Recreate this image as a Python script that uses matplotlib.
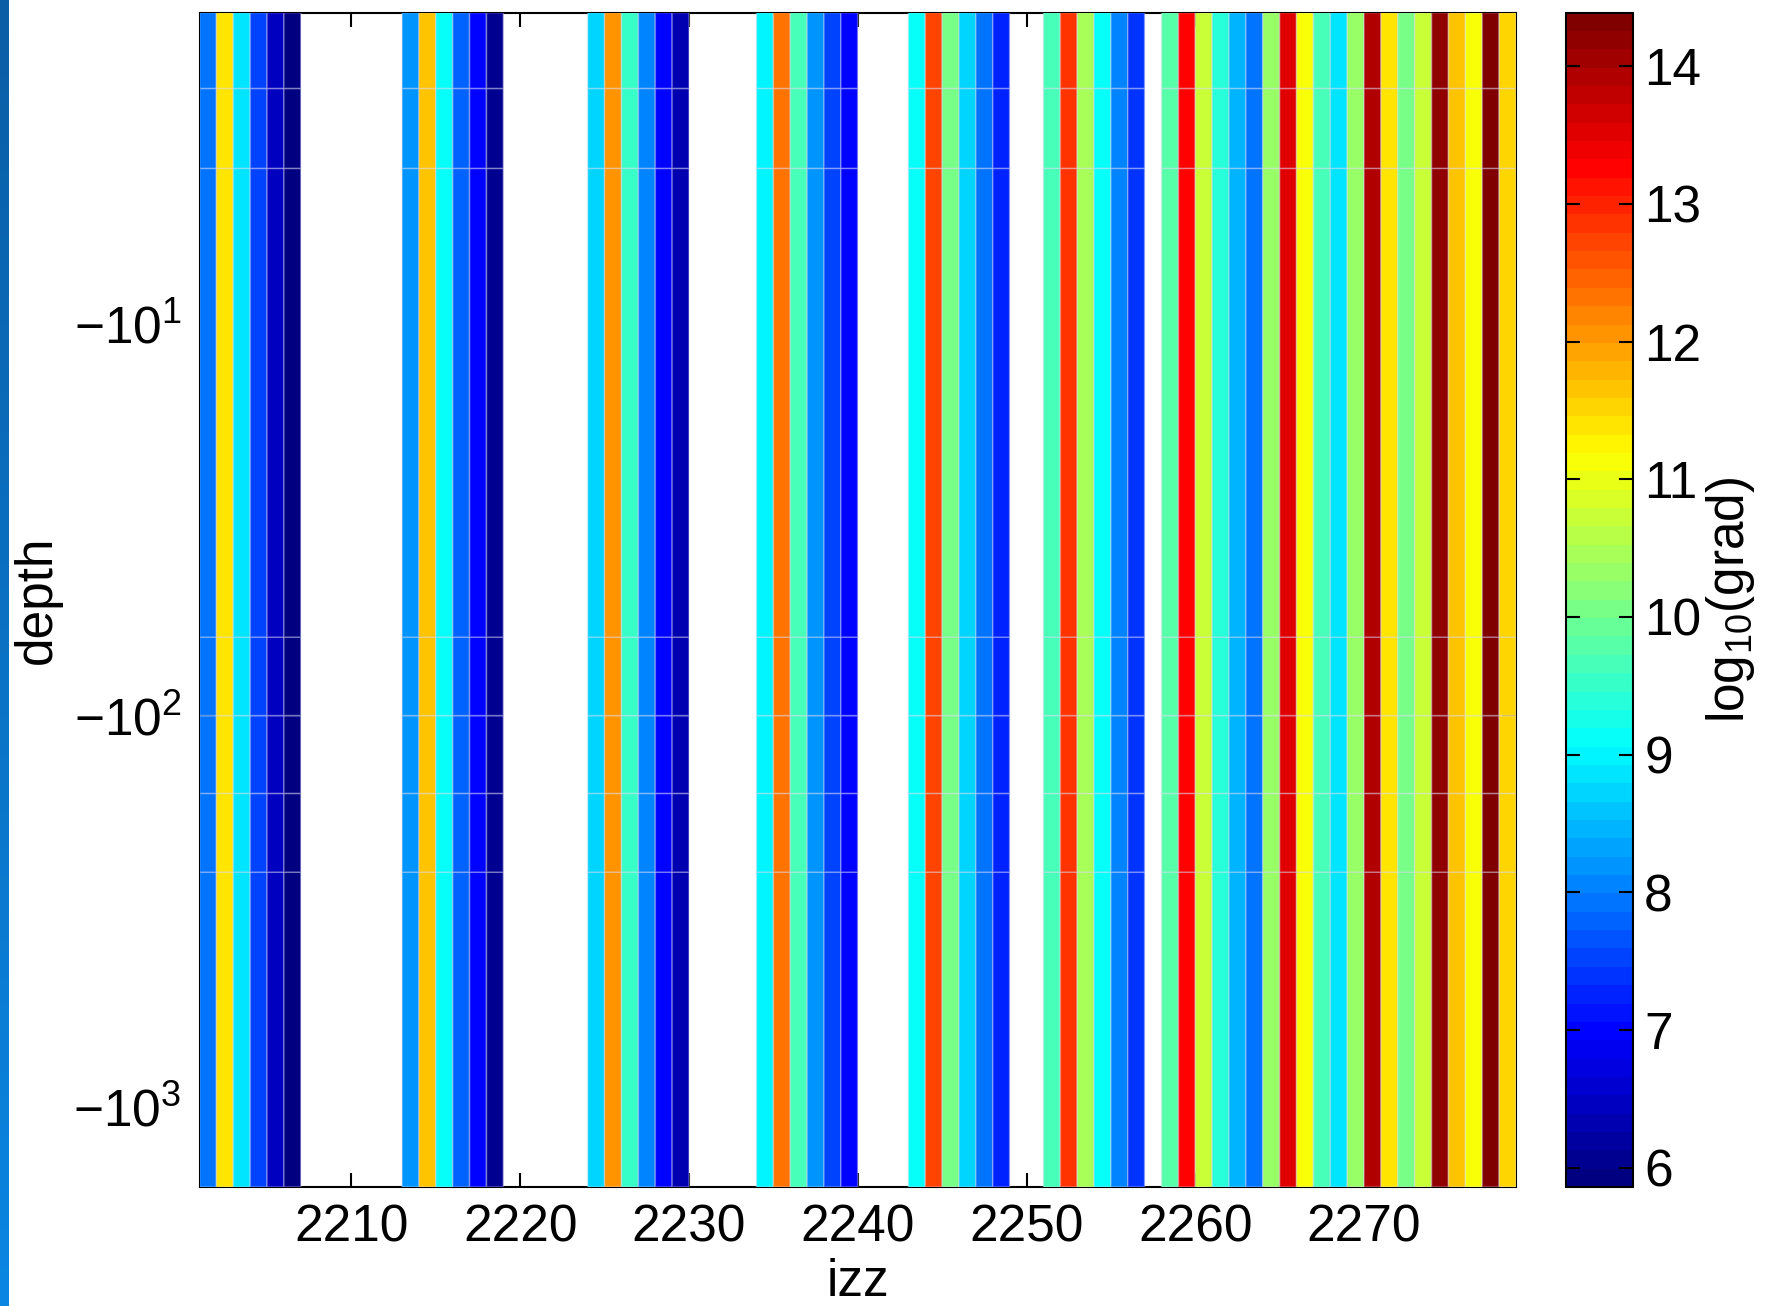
import numpy as np
import matplotlib
matplotlib.use('Agg')
import matplotlib.pyplot as plt
from matplotlib.colors import LinearSegmentedColormap

plt.rcParams['font.family'] = ['Liberation Sans', 'DejaVu Sans']
plt.rcParams['mathtext.default'] = 'regular'

# column edges along izz, one cell per integer index
izz_edges = np.arange(2201, 2280)

# log10 of the gradient per izz column, nan where nothing was computed
log_grad = [
    7.95, 11.40, 8.80, 7.55, 6.50, 5.86,          # 2201-2206
    np.nan, np.nan, np.nan, np.nan, np.nan, np.nan,
    8.25, 11.67, 9.06, 7.73, 6.97, 6.07,          # 2213-2218
    np.nan, np.nan, np.nan, np.nan, np.nan,
    8.67, 12.00, 9.46, 8.12, 7.00, 6.39,          # 2224-2229
    np.nan, np.nan, np.nan, np.nan,
    8.93, 12.32, 9.72, 8.25, 7.46, 6.93,          # 2234-2239
    np.nan, np.nan, np.nan,
    9.19, 12.66, 10.00, 8.67, 7.86, 7.20,         # 2243-2248
    np.nan, np.nan,
    9.72, 12.92, 10.40, 9.06, 8.12, 7.33,         # 2251-2256
    np.nan,
    9.75, 13.20, 10.66, 9.33, 8.40, 7.86,         # 2258-2263
    10.26, 13.58, 11.06, 9.72, 8.80, 10.26,       # 2264-2269
    13.86, 11.45, 10.00, 10.66, 14.13, 11.67,     # 2270-2275
    11.19, 14.39, 11.50,                          # 2276-2278
]

# depth rows of the mesh
depth_edges = [-1600, -251, -158, -100, -63, -4, -2.5, -1.6]

xticks = [2210, 2220, 2230, 2240, 2250, 2260, 2270]
yticks = [-1000, -100, -10]
cticks = [6, 7, 8, 9, 10, 11, 12, 13, 14]

# matlab style jet, 64 levels
jet_m = LinearSegmentedColormap('jet_m', {
    'red':   [(0, 0, 0), (3/8, 0, 0), (5/8, 1, 1), (7/8, 1, 1), (1, 0.5, 0.5)],
    'green': [(0, 0, 0), (1/8, 0, 0), (3/8, 1, 1), (5/8, 1, 1), (7/8, 0, 0), (1, 0, 0)],
    'blue':  [(0, 0.5, 0.5), (1/8, 1, 1), (3/8, 1, 1), (5/8, 0, 0), (1, 0, 0)],
}, N=64)

vals = np.ma.masked_invalid(np.array(log_grad))
nrow = len(depth_edges) - 1
Z = np.ma.array(np.tile(vals.data, (nrow, 1)), mask=np.tile(vals.mask, (nrow, 1)))

fs = 37
fig = plt.figure(figsize=(17.77, 13.06), dpi=100)
ax = fig.add_axes([0.1123, 0.0911, 0.7408, 0.8993])

mesh = ax.pcolor(izz_edges, depth_edges, Z, cmap=jet_m,
                 edgecolors=(0.85, 0.85, 0.95, 0.35), linewidth=1.2,
                 zorder=3)

ax.set_yscale('symlog', linthresh=1)
ax.set_xlim(izz_edges[0], izz_edges[-1])
ax.set_ylim(depth_edges[0], depth_edges[-1])
ax.set_xticks(xticks)
ax.set_yticks(yticks)
ax.minorticks_off()
ax.tick_params(direction='in', length=10, width=1.5, top=True, right=True,
               labelsize=fs, pad=12)
ax.tick_params(axis='y', pad=13)
for s in ax.spines.values():
    s.set_linewidth(1.5)
ax.set_xlabel('izz', fontsize=fs, labelpad=4)
ax.set_ylabel('depth', fontsize=fs, labelpad=8)

cax = fig.add_axes([0.8813, 0.0911, 0.0377, 0.8993])
cb = fig.colorbar(mesh, cax=cax)
cb.set_ticks(cticks)
cb.outline.set_linewidth(1.5)
cax.tick_params(direction='in', length=10, width=1.5, left=True, right=True,
                labelleft=False, labelright=True, labelsize=fs, pad=8)
cb.set_label('log$_{10}$(grad)', fontsize=fs, labelpad=2)

# blue strip along the left border
strip = fig.add_axes([0, 0, 0.0048, 1])
strip_cmap = LinearSegmentedColormap.from_list('strip', ['#0a5ea6', '#0a86e2'])
strip.imshow(np.linspace(0, 1, 100).reshape(-1, 1), aspect='auto', cmap=strip_cmap)
strip.axis('off')

fig.savefig('out.png', dpi=100)
